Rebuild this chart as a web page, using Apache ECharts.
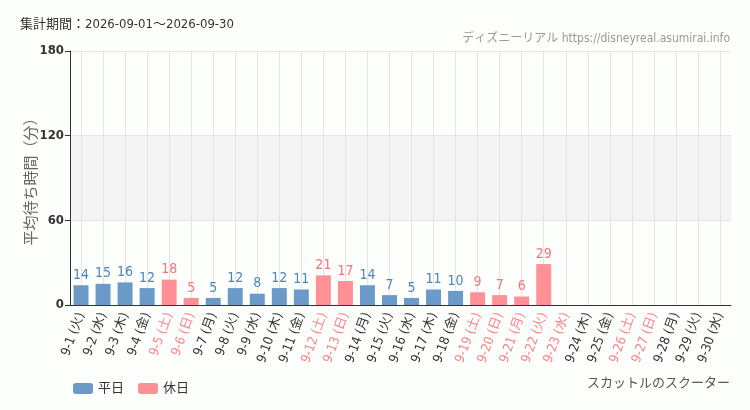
<!DOCTYPE html>
<html>
<head>
<meta charset="utf-8">
<script src="https://cdn.jsdelivr.net/npm/echarts@6/dist/echarts.min.js"></script>
<style>
  html, body { margin: 0; padding: 0; background: #fdfffd; }
  #chart { width: 750px; height: 410px; }
</style>
</head>
<body>
<div id="chart"></div>
<script>
const days = Array.from({ length: 30 }, (_, i) => `9-${i + 1}`);
const weekdays = ['火', '水', '木', '金', '土', '日', '月'];
const holidays = [5, 6, 12, 13, 19, 20, 21, 22, 23, 26, 27];
const waitTimes = [14, 15, 16, 12, 18, 5, 5, 12, 8, 12, 11, 21, 17, 14, 7, 5, 11, 10, 9, 7, 6, 29,
  null, null, null, null, null, null, null, null];
const yTicks = [0, 60, 120, 180];

const FONT = '"Liberation Sans Narrow", "DejaVu Sans Condensed", "Noto Sans CJK JP", sans-serif';
const BLUE = '#6b9ac8';
const PINK = '#ff9196';

const categories = days.map((d, i) => `${d} (${weekdays[i % 7]})`);
const isHoliday = (i) => holidays.includes(i + 1);

const weekdayData = waitTimes.map((v, i) => (isHoliday(i) ? null : v));
const holidayData = waitTimes.map((v, i) => (isHoliday(i) ? v : null));

const chart = echarts.init(document.getElementById('chart'));

chart.setOption({
  backgroundColor: '#fdfffd',
  textStyle: { fontFamily: FONT },
  animation: false,
  graphic: [
    { type: 'text', left: 20, top: 18, style: { text: '集計期間：2026-09-01～2026-09-30', fontSize: 13, fill: '#333', fontFamily: FONT } },
    { type: 'text', right: 20, top: 33, style: { text: 'ディズニーリアル https://disneyreal.asumirai.info', fontSize: 12, fill: '#999', fontFamily: FONT } },
    { type: 'text', right: 20, top: 377, style: { text: 'スカットルのスクーター', fontSize: 13, fill: '#555', fontFamily: FONT } },
  ],
  legend: {
    left: 68, top: 377,
    itemWidth: 20, itemHeight: 11, itemGap: 14,
    textStyle: { fontSize: 13, color: '#333', fontFamily: FONT },
    data: ['平日', '休日'],
  },
  grid: { left: 70, right: 19, top: 51, bottom: 105 },
  xAxis: {
    type: 'category',
    data: categories,
    axisLine: { lineStyle: { color: '#333' } },
    axisTick: { alignWithLabel: true, lineStyle: { color: '#333' } },
    splitLine: { show: true, alignWithLabel: true, lineStyle: { color: '#e4e4e4' } },
    axisLabel: {
      interval: 0, rotate: 70, fontSize: 13, margin: 8,
      color: (val, idx) => (isHoliday(idx) ? '#ff7f86' : '#333'),
    },
  },
  yAxis: {
    type: 'value',
    min: yTicks[0], max: yTicks[yTicks.length - 1], interval: 60,
    name: '平均待ち時間（分）',
    nameLocation: 'middle', nameGap: 30, nameMoveOverlap: false,
    nameTextStyle: { fontSize: 15, color: '#666', fontFamily: FONT },
    axisLine: { show: true, lineStyle: { color: '#333' } },
    axisTick: { show: true, lineStyle: { color: '#333' } },
    axisLabel: { fontSize: 13, color: '#333', fontWeight: 'bold', margin: 6 },
    splitLine: { lineStyle: { color: '#e4e4e4' } },
    splitArea: { show: true, areaStyle: { color: ['rgba(0,0,0,0)', '#f4f4f4', 'rgba(0,0,0,0)'] } },
  },
  series: [
    {
      name: '平日', type: 'bar', stack: 'a', barWidth: '68%',
      itemStyle: { color: BLUE },
      label: { show: true, position: 'top', color: '#4f85bb', fontSize: 14, distance: 3 },
      data: weekdayData,
    },
    {
      name: '休日', type: 'bar', stack: 'a', barWidth: '68%',
      itemStyle: { color: PINK },
      label: { show: true, position: 'top', color: '#f47479', fontSize: 14, distance: 3 },
      data: holidayData,
    },
  ],
});
</script>
</body>
</html>
